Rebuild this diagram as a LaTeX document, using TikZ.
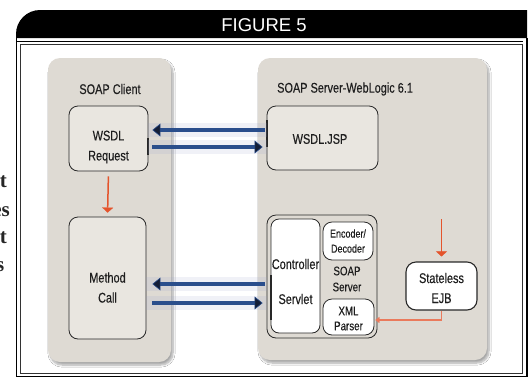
\documentclass[tikz,border=0pt]{standalone}
\usepackage{fontspec}
\setmainfont{Liberation Sans}
\newfontfamily\cond{Liberation Sans}[FakeStretch=0.78,FakeBold=0.35]
\newfontfamily\bodyserif{Liberation Serif}
\usetikzlibrary{arrows.meta,shadows.blur}

\definecolor{panel}{RGB}{222,218,211}
\definecolor{boxfill}{RGB}{233,230,224}
\definecolor{boxline}{RGB}{40,40,40}
\definecolor{flowblue}{RGB}{42,78,140}
\definecolor{tipnavy}{RGB}{20,30,55}
\definecolor{flowred}{RGB}{228,84,44}
\definecolor{flowredlight}{RGB}{234,122,92}
\definecolor{haze}{RGB}{150,160,205}
\definecolor{ink}{RGB}{30,30,30}

\begin{document}
\begin{tikzpicture}[x=1pt,y=-1pt,
  panelbox/.style={fill=panel, rounded corners=12pt, inner sep=0pt,
    blur shadow={shadow xshift=2pt, shadow yshift=-3pt, shadow blur steps=8, shadow opacity=35}},
  greybox/.style={draw=boxline, fill=boxfill, line width=0.8pt, rounded corners=9pt, inner sep=0pt},
  whitebox/.style={draw=boxline, fill=white, line width=0.8pt, rounded corners=8pt, inner sep=0pt},
  lbl/.style={font=\cond\fontsize{14}{20}\selectfont, text=ink, inner sep=0pt, align=center},
  smalllbl/.style={font=\cond\fontsize{11.5}{15}\selectfont, text=ink, inner sep=0pt, align=center},
  flow/.style={draw=flowblue, line width=4.5pt,
    -{Triangle[length=8pt,width=13pt,line width=0.6pt,color=flowblue,fill=tipnavy]}},
  glow/.style={draw=haze, line width=14pt, opacity=0.14},
  redflow/.style={draw=flowred, line width=1.5pt,
    -{Triangle[length=5pt,width=11pt,line width=0.3pt]}},
  redthin/.style={draw=flowredlight, line width=1.1pt,
    -{Triangle[length=4pt,width=6pt,line width=0.3pt]}},
  bodytext/.style={font=\bodyserif\bfseries\fontsize{21}{24}\selectfont, text=black!85, inner sep=0pt},
]
\useasboundingbox (0,0) rectangle (532,378);
\fill[white] (0,0) rectangle (532,378);

% cut-off words of the running text at the left margin
\node[bodytext, anchor=base east] (w1) at (7,187) {t};
\node[bodytext, anchor=base east] (w2) at (10,216) {es};
\node[bodytext, anchor=base east] (w3) at (7,243) {t};
\node[bodytext, anchor=base east] (w4) at (4.5,271) {s};

% header band with rounded top-left corner
\fill[black] (16,38) -- (16,34) .. controls (16,20.8) and (26.8,10) .. (40,10)
  -- (527,10) -- (527,38) -- cycle;
\node[font=\fontsize{18.5}{20}\selectfont, text=white, inner sep=0pt] (title) at (264,25) {FIGURE 5};

% frame
\draw[black, line width=1.6pt] (16.5,38) -- (16.5,376.5) -- (527,376.5) -- (527,38);
\draw[black, line width=1pt] (16.5,41.5) -- (523,41.5);
\draw[black!80, line width=0.9pt] (20.5,44.5) rectangle (522.5,373);

% panels
\node[panelbox, minimum width=123pt, minimum height=304pt] (client) at (109.5,210) {};
\node[panelbox, minimum width=229pt, minimum height=302pt] (server) at (372.5,209) {};
\node[lbl] (clientttl) at (110,89) {SOAP Client};
\node[lbl, anchor=west] (serverttl) at (277,89) {SOAP Server-WebLogic 6.1};

% client side boxes
\node[greybox, minimum width=79pt, minimum height=65pt] (wsdlreq) at (108.5,138.5) {};
\node[lbl] (wsdlreqtxt) at (108.5,147) {WSDL\\Request};
\node[greybox, minimum width=77pt, minimum height=122pt] (method) at (107.5,278) {};
\node[lbl] (methodtxt) at (107.5,287.5) {Method\\Call};

% server side boxes
\node[greybox, minimum width=111pt, minimum height=64pt] (wsdljsp) at (322.5,138) {};
\node[lbl] (wsdljsptxt) at (320,139) {WSDL.JSP};

\node[draw=boxline, fill=panel, line width=0.8pt, rounded corners=9pt, inner sep=0pt,
  minimum width=110pt, minimum height=123pt] (soapsrv) at (322,276.5) {};
\node[whitebox, minimum width=49pt, minimum height=114pt] (ctrl) at (295.5,276) {};
\node[lbl] (ctrltxt1) at (295.5,264) {Controller};
\node[lbl] (ctrltxt2) at (295.5,299) {Servlet};
\node[whitebox, rounded corners=9pt, minimum width=50pt, minimum height=38pt] (encoder) at (348,241) {};
\node[smalllbl] (encodertxt) at (348,241) {Encoder/\\Decoder};
\node[smalllbl, font=\cond\fontsize{12.5}{16}\selectfont] (soapsrvtxt) at (347,279) {SOAP\\Server};
\node[whitebox, rounded corners=9pt, minimum width=51pt, minimum height=36pt] (xmlp) at (348.5,317) {};
\node[smalllbl, font=\cond\fontsize{12.5}{15}\selectfont] (xmlptxt) at (348.5,318.5) {XML\\Parser};

\node[whitebox, line width=1.1pt, rounded corners=10pt, minimum width=71pt, minimum height=48pt] (ejb) at (441.5,286) {};
\node[lbl] (ejbtxt) at (441.5,288) {Stateless\\EJB};

% heavier marks on box edges where the arrows meet them
\draw[boxline, line width=1.6pt] (148,138) -- (148,155);
\draw[boxline, line width=1.6pt] (267,120) -- (267,147);
\draw[boxline, line width=1.6pt] (271,275) -- (271,320);

% levels of the paired arrows
\coordinate (yA) at (0,130);
\coordinate (yB) at (0,147);
\coordinate (yC) at (0,284);
\coordinate (yD) at (0,303);

% soft haze behind the arrow pairs
\draw[glow] (wsdlreq.east |- yA) -- (wsdljsp.west |- yA);
\draw[glow] (wsdlreq.east |- yB) -- (wsdljsp.west |- yB);
\draw[glow] (method.east |- yC) -- (soapsrv.west |- yC);
\draw[glow] (method.east |- yD) -- (soapsrv.west |- yD);

% request / response arrows
\draw[flow, shorten <=2pt, shorten >=4pt] (wsdljsp.west |- yA) -- (wsdlreq.east |- yA);
\draw[flow, shorten <=4pt, shorten >=4pt] (wsdlreq.east |- yB) -- (wsdljsp.west |- yB);
\draw[flow, shorten <=2pt, shorten >=6pt] (soapsrv.west |- yC) -- (method.east |- yC);
\draw[flow, shorten <=6pt, shorten >=4pt] (method.east |- yD) -- (soapsrv.west |- yD);

% internal flow
\draw[redflow, shorten <=5pt, shorten >=4pt] (wsdlreq.south) -- (method.north);
\coordinate (ejbin) at (441.5,219);
\draw[redflow, shorten >=5pt] (ejbin) -- (ejb.north);
\draw[redthin, shorten >=1pt] (ejb.south) |- ([yshift=-3pt]xmlp.east);
\end{tikzpicture}
\end{document}
